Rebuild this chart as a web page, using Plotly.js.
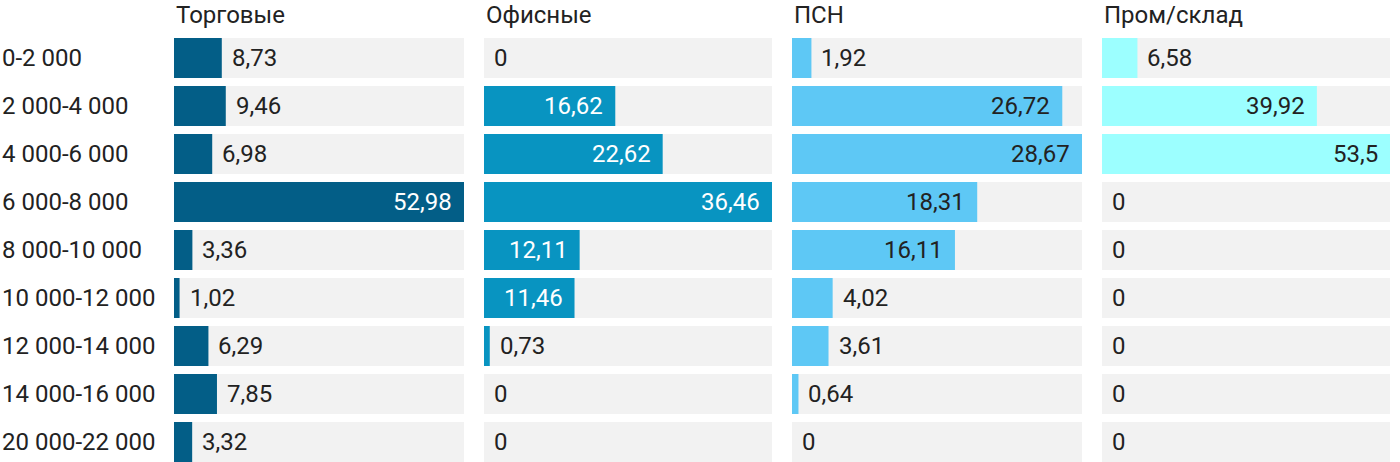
<!DOCTYPE html>
<html>
<head>
<meta charset="utf-8">
<script src="https://cdn.plot.ly/plotly-3.0.1.min.js"></script>
<style>html,body{margin:0;padding:0;background:#fff;}#chart{width:1400px;height:462px;}</style>
</head>
<body>
<div id="chart"></div>
<script>
// ---- data ----
const categories = ["0-2 000","2 000-4 000","4 000-6 000","6 000-8 000","8 000-10 000","10 000-12 000","12 000-14 000","14 000-16 000","20 000-22 000"];
const panelTitles = ["Торговые","Офисные","ПСН","Пром/склад"];
const trade   = [8.73, 9.46, 6.98, 52.98, 3.36, 1.02, 6.29, 7.85, 3.32];
const office  = [0, 16.62, 22.62, 36.46, 12.11, 11.46, 0.73, 0, 0];
const psn     = [1.92, 26.72, 28.67, 18.31, 16.11, 4.02, 3.61, 0.64, 0];
const storage = [6.58, 39.92, 53.5, 0, 0, 0, 0, 0, 0];

const series = [trade, office, psn, storage];
const colors = ["#035e87", "#0894c1", "#5ec8f5", "#9cffff"];
const insideTextColors = ["#ffffff", "#ffffff", "#222222", "#222222"];
const domains = [[174,464],[484,772],[792,1082],[1102,1390]];
const W = 1400;
const FONT = "Roboto, Arial, sans-serif";
const FS = 24;

const traces = [];
const annotations = [];
const layout = {
  width: 1400, height: 462,
  margin: {l:0, r:0, t:34, b:0},
  paper_bgcolor: "#ffffff", plot_bgcolor: "#ffffff",
  barmode: "overlay",
  bargap: 8/48,
  showlegend: false,
  font: {family: FONT, size: FS, color: "#222222"},
  yaxis: {
    type: "category", categoryorder: "array", categoryarray: categories,
    range: [8.5 - 4/48, -0.5], showgrid: false, zeroline: false, showticklabels: false,
    showline: false, ticks: "", fixedrange: true
  },
  annotations: annotations
};

series.forEach((vals, i) => {
  const ax = i === 0 ? "x" : "x" + (i + 1);
  const axKey = i === 0 ? "xaxis" : "xaxis" + (i + 1);
  const maxV = Math.max(...vals);
  layout[axKey] = {
    domain: [domains[i][0] / W, domains[i][1] / W],
    range: [0, maxV], showgrid: false, zeroline: false, showticklabels: false,
    showline: false, ticks: "", fixedrange: true
  };
  // background bars
  traces.push({
    type: "bar", orientation: "h", xaxis: ax, yaxis: "y",
    y: categories, x: categories.map(() => maxV),
    marker: {color: "#f2f2f2", line: {width: 0}}, hoverinfo: "skip"
  });
  // value bars
  traces.push({
    type: "bar", orientation: "h", xaxis: ax, yaxis: "y",
    y: categories, x: vals,
    marker: {color: colors[i], line: {width: 0}}, hoverinfo: "x+y"
  });
  // value labels
  vals.forEach((v, j) => {
    const inside = v / maxV > 0.25;
    annotations.push({
      xref: ax, yref: "y", x: v, y: categories[j],
      text: String(v).replace(".", ","),
      showarrow: false,
      xanchor: inside ? "right" : "left",
      xshift: inside ? -10 : 8,
      font: {family: FONT, size: FS, color: inside ? insideTextColors[i] : "#222222"}
    });
  });
  // panel title
  annotations.push({
    xref: "paper", yref: "paper", x: domains[i][0] / W, y: 1 + (34 - 15) / 428,
    xanchor: "left", yanchor: "middle", showarrow: false,
    text: panelTitles[i], font: {family: FONT, size: FS, color: "#222222"}
  });
});

// category labels
categories.forEach(c => {
  annotations.push({
    xref: "paper", yref: "y", x: 0, y: c, xanchor: "left", showarrow: false,
    text: c, font: {family: FONT, size: FS, color: "#222222"}
  });
});

Plotly.newPlot("chart", traces, layout, {displayModeBar: false, staticPlot: true});
</script>
</body>
</html>
